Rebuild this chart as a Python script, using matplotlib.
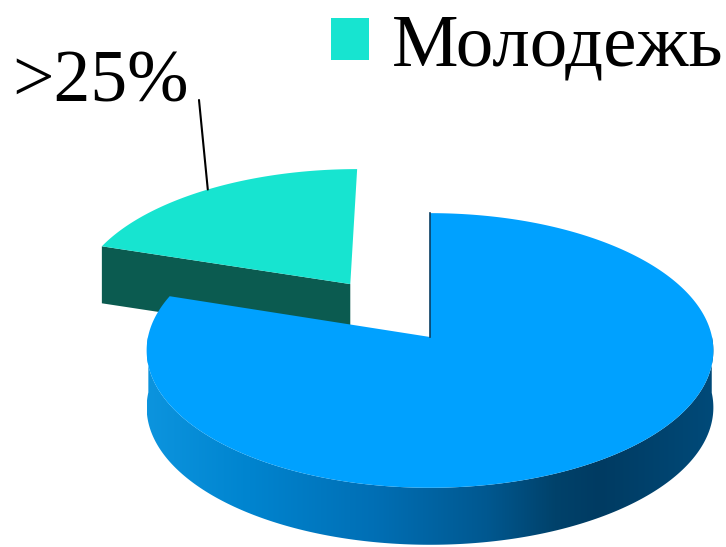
import numpy as np
import matplotlib.pyplot as plt
from matplotlib.patches import Polygon, Patch
from matplotlib.colors import LinearSegmentedColormap

# data
shares = [20, 80]
names = ['Молодежь', '']
label_text = '>25%'
explode = [0.5, 0.0]
start_angle = 90

top_colors = ['#17E4D0', '#00A1FF']
cut_colors = ['#0B5B50', '#0B3F63']
side_stops = [(0.0, '#0C94DE'), (0.18, '#0084CF'), (0.4, '#006FB5'),
              (0.6, '#005890'), (0.72, '#00426B'), (0.8, '#003B62'),
              (1.0, '#004A79')]

# view of the pie (pixels of the canvas)
cx, cy = 430, 337
rx, ry = 282, 136
persp = 0.098
depth = 57


def project(X, Y, z=0.0):
    X = np.asarray(X, float)
    Y = np.asarray(Y, float)
    w = 1 + persp * Y
    return cx + rx * X / w, cy - ry * Y / w + z * depth


fig = plt.figure(figsize=(7.26, 5.47), dpi=100)
ax = fig.add_axes([0, 0, 1, 1])
ax.set_xlim(0, 726)
ax.set_ylim(547, 0)
ax.axis('off')

total = float(sum(shares))
bounds = start_angle + 360 * np.concatenate([[0], np.cumsum(shares)]) / total

slices = []
for i in range(len(shares)):
    a0, a1 = np.radians(bounds[i]), np.radians(bounds[i + 1])
    mid = (a0 + a1) / 2
    ox, oy = explode[i] * np.cos(mid), explode[i] * np.sin(mid)
    slices.append((oy, i, a0, a1, mid, ox))

# back to front
slices.sort(key=lambda s: -s[0])

side_cmap = LinearSegmentedColormap.from_list('side', side_stops)
label_xy = None

for oy, i, a0, a1, mid, ox in slices:
    th = np.linspace(a0, a1, 400)
    arcX, arcY = ox + np.cos(th), oy + np.sin(th)

    # cut faces that turn towards the viewer
    if np.sin(a1 + np.pi / 2) < -1e-6:
        ex, ey = ox + np.cos(a1), oy + np.sin(a1)
        p = [project(ox, oy), project(ex, ey), project(ex, ey, 1), project(ox, oy, 1)]
        ax.add_patch(Polygon(p, closed=True, facecolor=cut_colors[i], edgecolor='none'))
    if np.sin(a0 - np.pi / 2) < -1e-6:
        ex, ey = ox + np.cos(a0), oy + np.sin(a0)
        p = [project(ox, oy), project(ex, ey), project(ex, ey, 1), project(ox, oy, 1)]
        ax.add_patch(Polygon(p, closed=True, facecolor=cut_colors[i], edgecolor='none'))

    # outer side, front half only
    front = np.sin(th) <= 0.02
    if front.any():
        fx, fy = arcX[front], arcY[front]
        tx, ty = project(fx, fy)
        bx, by = project(fx, fy, 1)
        pts = np.column_stack([np.concatenate([tx, bx[::-1]]),
                               np.concatenate([ty, by[::-1]])])
        clip = Polygon(pts, closed=True, facecolor='none', edgecolor='none')
        ax.add_patch(clip)
        x0, x1 = pts[:, 0].min(), pts[:, 0].max()
        y0, y1 = pts[:, 1].min(), pts[:, 1].max()
        grad = np.linspace(0, 1, 256).reshape(1, -1)
        im = ax.imshow(grad, cmap=side_cmap, aspect='auto',
                       extent=(x0, x1, y1, y0), interpolation='bilinear', zorder=1)
        im.set_clip_path(clip)

    # top face
    tx, ty = project(arcX, arcY)
    px, py = project(ox, oy)
    pts = np.column_stack([np.concatenate([[px], tx]), np.concatenate([[py], ty])])
    ax.add_patch(Polygon(pts, closed=True, facecolor=top_colors[i],
                         edgecolor='none', zorder=2))

    if names[i]:
        label_xy = project(ox + np.cos(mid), oy + np.sin(mid))

# thin dark edge on the vertical cut of the big slice
ex, ey = project([0, 0], [0, 1])
ax.plot(ex, ey, color='#0B3F63', lw=1.2, zorder=3)

font = {'family': 'Liberation Serif', 'size': 54}

ax.text(12, 102, label_text, ha='left', va='baseline',
        fontdict={'family': 'Liberation Serif', 'size': 53}, zorder=4)
ax.annotate('', xy=label_xy, xytext=(199, 100),
            arrowprops=dict(arrowstyle='-', color='black', lw=1.5,
                            shrinkA=0, shrinkB=0), zorder=4)

leg = ax.legend(handles=[Patch(facecolor=top_colors[0], label=names[0])],
                loc='upper right', bbox_to_anchor=(723, 14),
                bbox_transform=ax.transData, frameon=False, prop=font,
                handlelength=0.5, handleheight=0.5, handletextpad=0.3,
                borderpad=0, borderaxespad=0)

fig.savefig('out.png', dpi=100)
